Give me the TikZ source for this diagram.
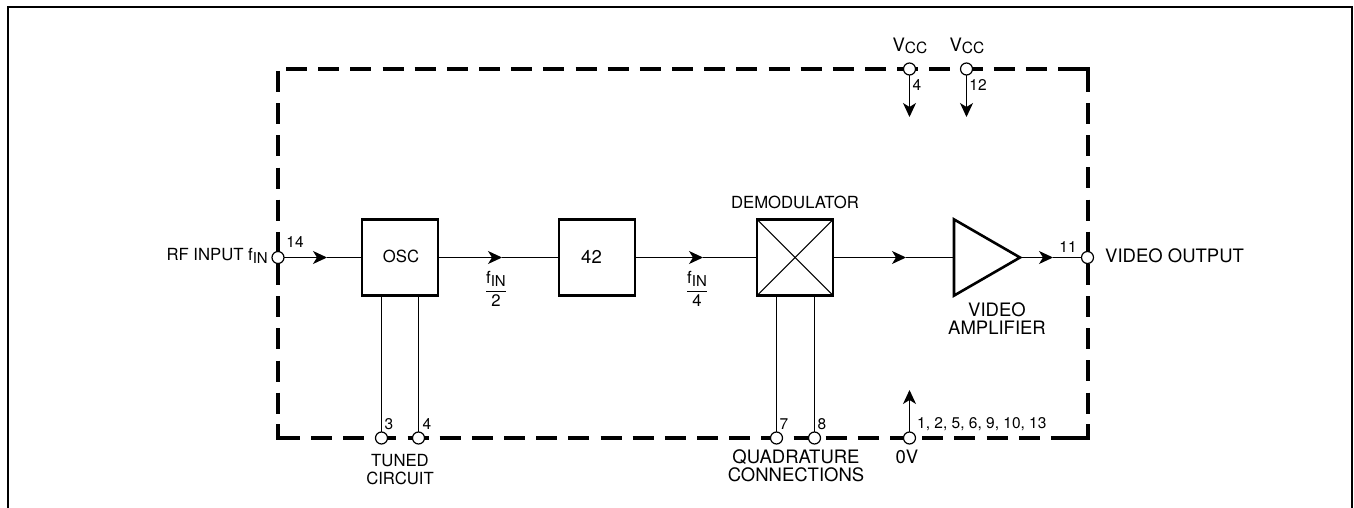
\documentclass[tikz,border=0pt]{standalone}
\usepackage{fontspec}
\setmainfont{TeX Gyre Heros}
\usetikzlibrary{positioning}
\usetikzlibrary{arrows.meta}
\usetikzlibrary{shapes.geometric}

\newcommand{\fin}{f\raisebox{-3pt}{\fontsize{15}{15}\selectfont IN}}
\newcommand{\vcc}{{\fontsize{18.5}{18}\selectfont V}\raisebox{-1.5pt}{\fontsize{15.5}{15.5}\selectfont CC}}

\tikzset{
  wire/.style={line width=1.05pt},
  tipline/.style={wire, -{Stealth[length=14pt, width=13pt, inset=4pt]}},
  block/.style={draw, line width=2.6pt, minimum size=76pt, inner sep=0pt, outer sep=0pt},
  pin/.style={circle, draw, fill=white, line width=1.2pt, minimum size=12pt, inner sep=0pt, outer sep=0pt},
  boundary/.style={line width=4pt, dash pattern=on 21pt off 11.17pt},
  corner/.style={line width=4pt, line join=miter},
  lbl/.style={inner sep=0pt, align=center, font=\fontsize{18.5}{18}\selectfont},
  lblsmall/.style={inner sep=0pt, align=center, font=\fontsize{16.7}{18}\selectfont},
  pinno/.style={inner sep=0pt, font=\fontsize{15.5}{16}\selectfont},
}

\begin{document}
\begin{tikzpicture}[x=1pt, y=-1pt]
\useasboundingbox (0,0) rectangle (1354,508);

\draw[line width=2.2pt] (8,508) |- (1352,7) -- (1352,508);

\draw[boundary] (286,69) -- (1058,69);
\draw[boundary] (1087.5,103) -- (1087.5,424);
\draw[boundary] (311,438) -- (1051,438);
\draw[boundary] (278,71) -- (278,424);
\draw[corner] (1058,69) -| (1087.5,92);
\draw[corner] (1087.5,424) |- (1051,438);
\draw[corner] (278,424) |- (300,438);

\node[block] (osc) at (400,257.5) {};
\node[lblsmall] (osc-l) at (401,256.5) {OSC};
\node[block, right=121pt of osc] (div) {};
\node[lbl] (div-l) at (591.5,256.5) {42};
\node[block, right=122pt of div] (demod) {};
\node[lblsmall, above=11pt of demod] (demod-l) {DEMODULATOR};
\draw[wire] (demod.north west) -- (demod.south east);
\draw[wire] (demod.north east) -- (demod.south west);
\node[isosceles triangle, isosceles triangle apex angle=60, draw, line width=2.6pt,
      minimum height=66pt, inner sep=0pt, outer sep=0pt, anchor=lower side,
      right=121pt of demod] (amp) {};
\node[lbl] (amp-l) at (997,319) {VIDEO\\AMPLIFIER};

\node[pin] (rf) at (278,257.5) {};
\node[pin] (out) at (1087.5,257.5) {};
\node[pin] (vcc-4) at (909.5,69) {};
\node[pin] (vcc-12) at (966.5,69) {};
\node[pin] (tun-3) at (381.5,438) {};
\node[pin] (tun-4) at (418.5,438) {};
\node[pin] (quad-7) at (776.5,438) {};
\node[pin] (quad-8) at (814.5,438) {};
\node[pin] (gnd) at (909.5,438) {};

\coordinate (rf-t) at (327,257.5);
\coordinate (osc-t) at (502,257.5);
\coordinate (div-t) at (703,257.5);
\coordinate (demod-t) at (906,257.5);
\coordinate (amp-t) at (1053,257.5);
\coordinate[below=48pt of vcc-4.center] (vcc-4-t);
\coordinate[below=48pt of vcc-12.center] (vcc-12-t);
\coordinate[above=48pt of gnd.center] (gnd-t);

\draw[tipline] (rf) -- (rf-t);
\draw[wire] (rf-t) -- (osc);
\draw[tipline] (osc) -- (osc-t);
\draw[wire] (osc-t) -- (div);
\draw[tipline] (div) -- (div-t);
\draw[wire] (div-t) -- (demod);
\draw[tipline] (demod) -- (demod-t);
\draw[wire] (demod-t) -- (amp.lower side);
\draw[tipline] (amp.apex) -- (amp-t);
\draw[wire] (amp-t) -- (out);

\draw[tipline] (vcc-4) -- (vcc-4-t);
\draw[tipline] (vcc-12) -- (vcc-12-t);
\draw[tipline] (gnd) -- (gnd-t);

\draw[wire] (tun-3) -- (tun-3 |- osc.south);
\draw[wire] (tun-4) -- (tun-4 |- osc.south);
\draw[wire] (quad-7) -- (quad-7 |- demod.south);
\draw[wire] (quad-8) -- (quad-8 |- demod.south);

\node[lblsmall, anchor=east] (rf-l) at (268,256) {RF INPUT \fin};
\node[lbl, anchor=west] (out-l) at (1105,256) {VIDEO OUTPUT};
\node[lblsmall] (vcc-4-l) at (910,46) {\vcc};
\node[lblsmall] (vcc-12-l) at (967,46) {\vcc};
\node[lblsmall] (tun-l) at (400,470) {TUNED\\CIRCUIT};
\node[lbl] (quad-l) at (796,466) {QUADRATURE\\CONNECTIONS};
\node[lbl] (gnd-l) at (907,457) {0V};

\node[lblsmall] (f2) at (496,289) {$\displaystyle\frac{\hbox{\fin}}{\hbox{2}}$};
\node[lblsmall] (f4) at (697,289) {$\displaystyle\frac{\hbox{\fin}}{\hbox{4}}$};

\node[pinno] (no-14) at (295,242) {14};
\node[pinno] (no-4a) at (917,85) {4};
\node[pinno] (no-12) at (978,85) {12};
\node[pinno] (no-3) at (389,424) {3};
\node[pinno] (no-4b) at (427,424) {4};
\node[pinno] (no-7) at (784,424) {7};
\node[pinno] (no-8) at (822,424) {8};
\node[pinno] (no-11) at (1068,247) {11};
\node[pinno, anchor=west] (no-gnd) at (917,424) {1, 2, 5, 6, 9, 10, 13};

\end{tikzpicture}
\end{document}
